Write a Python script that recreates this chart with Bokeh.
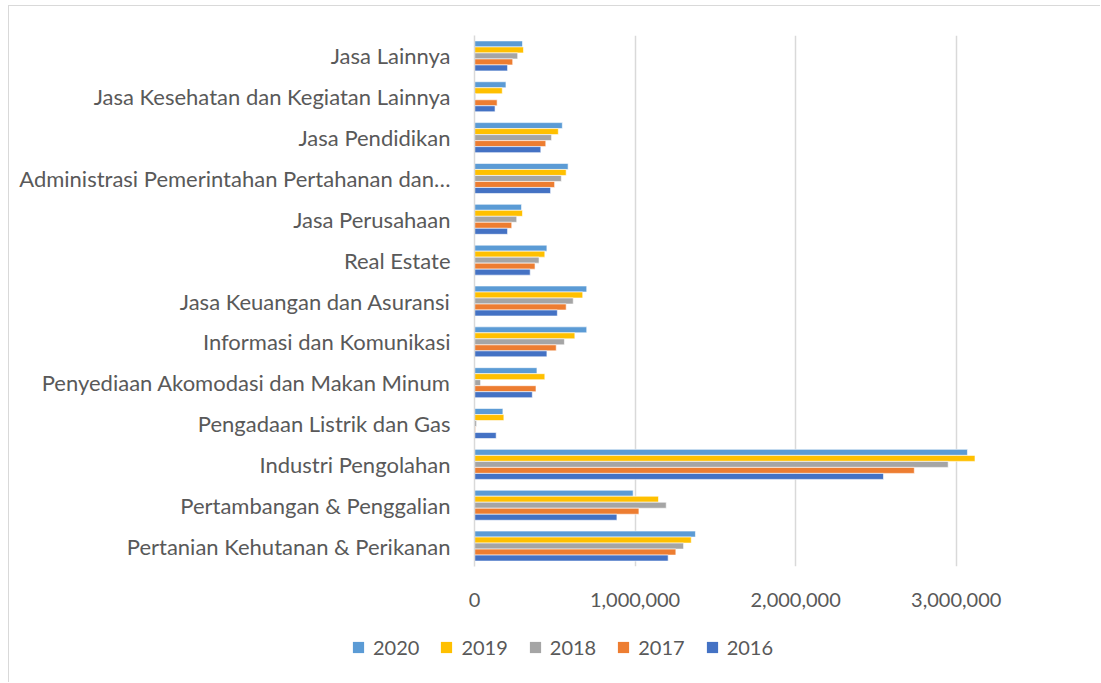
from bokeh.plotting import figure
from bokeh.models import (ColumnDataSource, FactorRange, Range1d, FixedTicker,
                          NumeralTickFormatter, Legend, LegendItem)
from bokeh.transform import dodge
from bokeh.embed import file_html
from bokeh.resources import INLINE

# categories listed bottom -> top
categories = [
    "Pertanian Kehutanan & Perikanan",
    "Pertambangan & Penggalian",
    "Industri Pengolahan",
    "Pengadaan Listrik dan Gas",
    "Penyediaan Akomodasi dan Makan Minum",
    "Informasi dan Komunikasi",
    "Jasa Keuangan dan Asuransi",
    "Real Estate",
    "Jasa Perusahaan",
    "Administrasi Pemerintahan Pertahanan dan…",
    "Jasa Pendidikan",
    "Jasa Kesehatan dan Kegiatan Lainnya",
    "Jasa Lainnya",
]
years = ["2020", "2019", "2018", "2017", "2016"]
v2020 = [1376000, 988000, 3070000, 177000, 389000, 699000, 699000, 451000, 293000, 583000, 547000, 196000, 299000]
v2019 = [1350000, 1146000, 3117000, 183000, 438000, 625000, 674000, 438000, 299000, 571000, 522000, 173000, 305000]
v2018 = [1302000, 1194000, 2950000, 13000, 38000, 560000, 615000, 402000, 263000, 541000, 480000, 6000, 269000]
v2017 = [1254000, 1024000, 2739000, 6000, 383000, 509000, 571000, 377000, 232000, 499000, 444000, 141000, 238000]
v2016 = [1206000, 887000, 2547000, 135000, 360000, 451000, 516000, 347000, 206000, 474000, 413000, 128000, 206000]
x_ticks = [0, 1000000, 2000000, 3000000]

colors = ["#5B9BD5", "#FFC000", "#A5A5A5", "#ED7D31", "#4472C4"]

src = ColumnDataSource(dict(cat=categories, y2020=v2020, y2019=v2019,
                            y2018=v2018, y2017=v2017, y2016=v2016))

FONT = "Lato"
TXT = "#595959"
BORDER = "#d9d9d9"

# main chart
p = figure(width=1092, height=612, y_range=FactorRange(*categories),
           x_range=Range1d(0, 3500000), output_backend="svg",
           toolbar_location=None, min_border_left=465, min_border_right=65,
           min_border_top=29, min_border_bottom=52)
p.outline_line_color = None
p.styles = {"margin-left": "8px", "margin-top": "5px",
            "border-left": "1px solid " + BORDER,
            "border-top": "1px solid " + BORDER}

bh = 0.147
offsets = [2 * bh, bh, 0, -bh, -2 * bh]
for yr, col, off in zip(years, colors, offsets):
    p.hbar(y=dodge("cat", off, range=p.y_range), right="y" + yr, left=0,
           height=bh, source=src, fill_color=col, line_color="white",
           line_width=0.6)

p.xaxis.ticker = FixedTicker(ticks=x_ticks)
p.xaxis.formatter = NumeralTickFormatter(format="0,0")
p.xaxis.axis_line_color = None
p.xaxis.major_tick_line_color = None
p.xaxis.minor_tick_line_color = None
p.xaxis.major_label_standoff = 20
p.xaxis.major_label_text_font = FONT
p.xaxis.major_label_text_font_size = "20px"
p.xaxis.major_label_text_color = TXT

p.yaxis.axis_line_color = BORDER
p.yaxis.axis_line_width = 1.5
p.yaxis.major_tick_line_color = None
p.yaxis.minor_tick_line_color = None
p.yaxis.major_label_standoff = 18
p.yaxis.major_label_text_font = FONT
p.yaxis.major_label_text_font_size = "22px"
p.yaxis.major_label_text_color = TXT

p.xgrid.grid_line_color = BORDER
p.xgrid.grid_line_width = 1.5
p.ygrid.grid_line_color = None

# legend strip (separate root so its frame is not aligned with the chart)
g = figure(width=1092, height=65, x_range=Range1d(0, 1092), y_range=Range1d(0, 65),
           x_axis_type=None, y_axis_type=None, output_backend="svg",
           toolbar_location=None, min_border=0)
g.outline_line_color = None
g.grid.visible = False
g.styles = {"margin-left": "8px", "border-left": "1px solid " + BORDER}
leg_renderers = []
for yr, col in zip(years, colors):
    r = g.hbar(y=[-100], right=[-100], left=[-101], height=1, fill_color=col,
               line_color=None)
    leg_renderers.append(r)
legend = Legend(items=[LegendItem(label=y, renderers=[r]) for y, r in zip(years, leg_renderers)],
                orientation="horizontal", location=(342, 23))
legend.label_text_font = FONT
legend.label_text_font_size = "20px"
legend.label_text_color = TXT
legend.glyph_width = 14
legend.glyph_height = 14
legend.label_standoff = 8
legend.spacing = 20
legend.border_line_color = None
legend.background_fill_alpha = 0
legend.padding = 4
legend.margin = 0
g.add_layout(legend, "center")

open("out.html", "w").write(file_html([p, g], INLINE))
